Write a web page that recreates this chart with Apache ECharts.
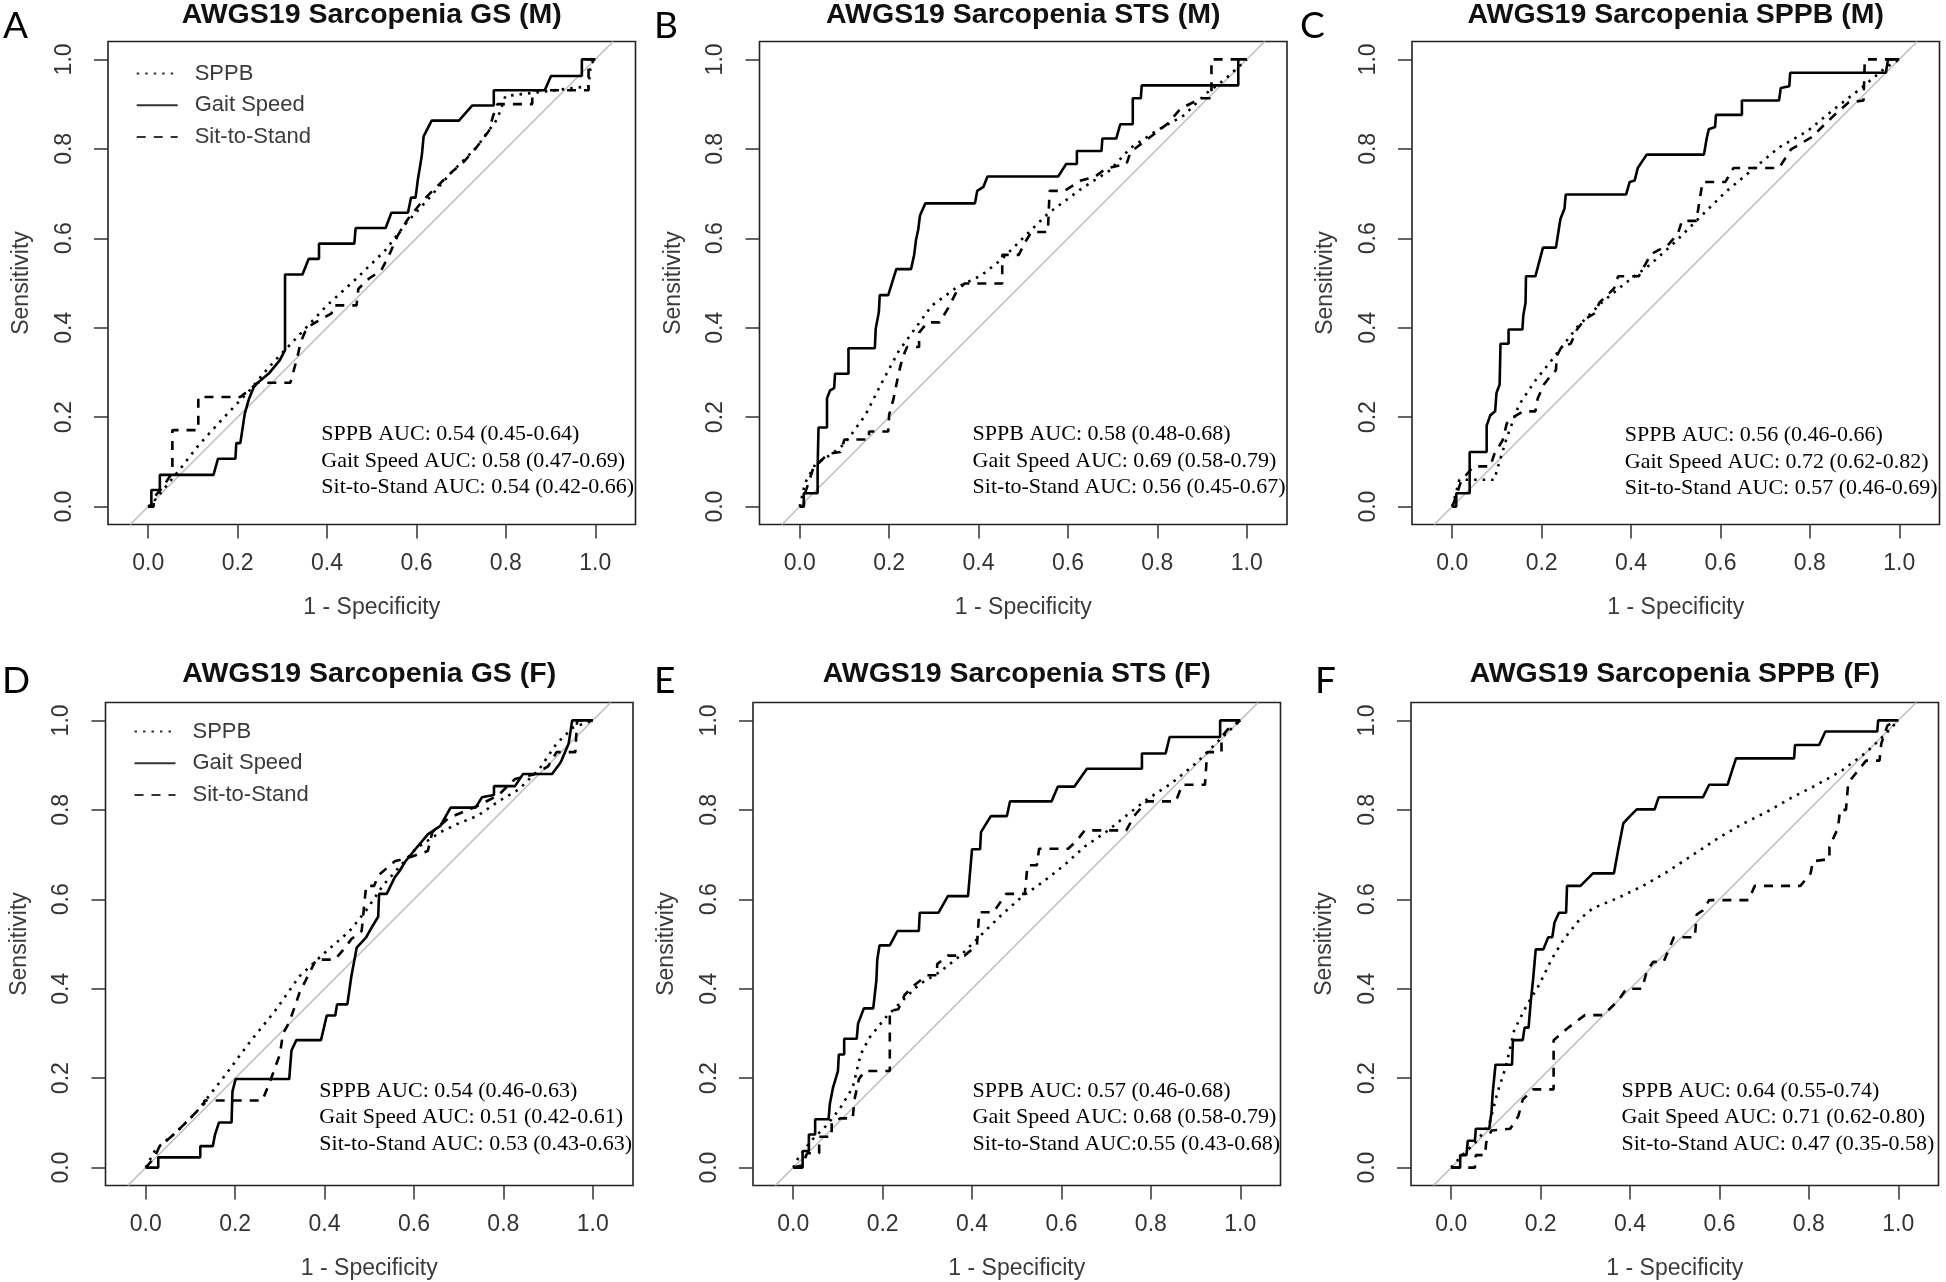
<!DOCTYPE html>
<html><head><meta charset="utf-8">
<script src="https://cdn.jsdelivr.net/npm/echarts@6/dist/echarts.min.js"></script>
<style>html,body{margin:0;padding:0;background:#fff}#c{width:1946px;height:1282px}</style>
</head><body><div id="c"></div>
<script>
// ---------- DATA ----------
const tickValues = [0, 0.2, 0.4, 0.6, 0.8, 1.0];
const seriesNames = ['SPPB', 'Gait Speed', 'Sit-to-Stand'];
const diagLine = [[-0.04, -0.04], [1.04, 1.04]];

const panelLetters = ['A', 'B', 'C', 'D', 'E', 'F'];
const panelTitles = [
  'AWGS19 Sarcopenia GS (M)', 'AWGS19 Sarcopenia STS (M)', 'AWGS19 Sarcopenia SPPB (M)',
  'AWGS19 Sarcopenia GS (F)', 'AWGS19 Sarcopenia STS (F)', 'AWGS19 Sarcopenia SPPB (F)'
];
const aucA = ['SPPB AUC: 0.54 (0.45-0.64)', 'Gait Speed AUC: 0.58 (0.47-0.69)', 'Sit-to-Stand AUC: 0.54 (0.42-0.66)'];
const aucB = ['SPPB AUC: 0.58 (0.48-0.68)', 'Gait Speed AUC: 0.69 (0.58-0.79)', 'Sit-to-Stand AUC: 0.56 (0.45-0.67)'];
const aucC = ['SPPB AUC: 0.56 (0.46-0.66)', 'Gait Speed AUC: 0.72 (0.62-0.82)', 'Sit-to-Stand AUC: 0.57 (0.46-0.69)'];
const aucD = ['SPPB AUC: 0.54 (0.46-0.63)', 'Gait Speed AUC: 0.51 (0.42-0.61)', 'Sit-to-Stand AUC: 0.53 (0.43-0.63)'];
const aucE = ['SPPB AUC: 0.57 (0.46-0.68)', 'Gait Speed AUC: 0.68 (0.58-0.79)', 'Sit-to-Stand AUC:0.55 (0.43-0.68)'];
const aucF = ['SPPB AUC: 0.64 (0.55-0.74)', 'Gait Speed AUC: 0.71 (0.62-0.80)', 'Sit-to-Stand AUC: 0.47 (0.35-0.58)'];

// Panel A
const A_sppb = [[0,0],[0.012,0.011],[0.068,0.08],[0.114,0.139],[0.169,0.199],[0.225,0.258],[0.271,0.313],[0.336,0.382],[0.401,0.451],[0.466,0.51],[0.531,0.574],[0.577,0.634],[0.623,0.684],[0.679,0.748],[0.734,0.803],[0.781,0.867],[0.799,0.918],[0.985,0.94],[0.99,0.99],[1,1]];
const A_gait = [[0,0],[0.007,0],[0.007,0.037],[0.026,0.037],[0.026,0.071],[0.146,0.071],[0.156,0.107],[0.195,0.107],[0.197,0.142],[0.206,0.142],[0.216,0.208],[0.225,0.24],[0.236,0.267],[0.245,0.277],[0.271,0.299],[0.294,0.327],[0.306,0.35],[0.306,0.519],[0.345,0.519],[0.359,0.554],[0.382,0.554],[0.382,0.588],[0.461,0.588],[0.464,0.623],[0.531,0.623],[0.544,0.657],[0.581,0.657],[0.588,0.691],[0.598,0.691],[0.603,0.73],[0.612,0.785],[0.616,0.828],[0.634,0.863],[0.695,0.863],[0.725,0.897],[0.773,0.897],[0.773,0.931],[0.887,0.931],[0.901,0.963],[0.97,0.963],[0.97,1],[1,1]];
const A_sts = [[0,0],[0.012,0],[0.012,0.02],[0.03,0.04],[0.05,0.07],[0.054,0.09],[0.054,0.171],[0.112,0.171],[0.112,0.245],[0.206,0.245],[0.225,0.26],[0.245,0.277],[0.318,0.277],[0.334,0.336],[0.341,0.368],[0.355,0.4],[0.378,0.414],[0.41,0.432],[0.415,0.45],[0.466,0.45],[0.47,0.487],[0.494,0.51],[0.521,0.528],[0.54,0.565],[0.558,0.606],[0.581,0.643],[0.614,0.684],[0.642,0.712],[0.679,0.748],[0.706,0.771],[0.734,0.803],[0.762,0.84],[0.771,0.872],[0.781,0.9],[0.859,0.9],[0.859,0.931],[0.985,0.931],[0.985,1],[1,1]];

// Panel B
const B_sppb = [[0,0],[0.012,0.053],[0.035,0.095],[0.072,0.118],[0.1,0.14],[0.147,0.205],[0.184,0.278],[0.221,0.347],[0.258,0.398],[0.295,0.449],[0.351,0.49],[0.406,0.517],[0.453,0.554],[0.499,0.6],[0.555,0.655],[0.629,0.71],[0.694,0.752],[0.74,0.802],[0.796,0.839],[0.861,0.876],[0.907,0.922],[0.954,0.958],[1,1]];
const B_gait = [[0,0],[0.009,0],[0.009,0.03],[0.04,0.03],[0.04,0.085],[0.042,0.177],[0.061,0.177],[0.061,0.242],[0.068,0.26],[0.077,0.265],[0.079,0.297],[0.109,0.297],[0.109,0.354],[0.168,0.354],[0.17,0.398],[0.177,0.435],[0.179,0.473],[0.198,0.473],[0.216,0.531],[0.249,0.531],[0.256,0.563],[0.26,0.596],[0.265,0.619],[0.269,0.651],[0.281,0.678],[0.392,0.678],[0.397,0.706],[0.411,0.715],[0.42,0.738],[0.578,0.738],[0.596,0.766],[0.62,0.766],[0.62,0.795],[0.675,0.795],[0.677,0.823],[0.708,0.823],[0.717,0.855],[0.745,0.855],[0.745,0.913],[0.763,0.913],[0.765,0.942],[0.981,0.942],[0.981,1],[1,1]];
const B_sts = [[0,0],[0.009,0],[0.012,0.03],[0.03,0.085],[0.063,0.118],[0.091,0.122],[0.1,0.15],[0.155,0.15],[0.155,0.168],[0.198,0.168],[0.2,0.205],[0.21,0.242],[0.221,0.297],[0.23,0.333],[0.24,0.357],[0.267,0.357],[0.267,0.389],[0.286,0.412],[0.313,0.412],[0.332,0.444],[0.351,0.481],[0.369,0.499],[0.453,0.499],[0.453,0.563],[0.49,0.563],[0.504,0.591],[0.518,0.614],[0.555,0.614],[0.559,0.706],[0.592,0.706],[0.629,0.729],[0.661,0.738],[0.685,0.756],[0.731,0.766],[0.74,0.793],[0.777,0.821],[0.824,0.857],[0.852,0.89],[0.898,0.913],[0.921,0.913],[0.921,1],[1,1]];

// Panel C
const C_sppb = [[0,0],[0.016,0.06],[0.094,0.06],[0.108,0.108],[0.122,0.154],[0.149,0.227],[0.186,0.282],[0.223,0.328],[0.279,0.401],[0.334,0.456],[0.389,0.501],[0.445,0.543],[0.5,0.593],[0.555,0.648],[0.611,0.703],[0.666,0.749],[0.731,0.803],[0.795,0.84],[0.851,0.886],[0.915,0.936],[0.97,0.982],[1,1]];
const C_gait = [[0,0],[0.009,0],[0.009,0.03],[0.039,0.03],[0.039,0.122],[0.077,0.122],[0.077,0.181],[0.085,0.204],[0.096,0.213],[0.099,0.254],[0.106,0.273],[0.108,0.364],[0.126,0.364],[0.126,0.396],[0.157,0.396],[0.159,0.428],[0.164,0.456],[0.165,0.515],[0.186,0.515],[0.203,0.579],[0.232,0.579],[0.242,0.643],[0.251,0.666],[0.254,0.698],[0.389,0.698],[0.397,0.726],[0.408,0.729],[0.415,0.757],[0.435,0.787],[0.563,0.787],[0.569,0.822],[0.574,0.844],[0.588,0.849],[0.59,0.876],[0.648,0.876],[0.648,0.908],[0.731,0.908],[0.735,0.936],[0.754,0.94],[0.756,0.97],[0.97,0.97],[0.975,1],[1,1]];
const C_sts = [[0,0],[0.011,0.03],[0.02,0.058],[0.048,0.09],[0.085,0.09],[0.094,0.117],[0.113,0.149],[0.122,0.186],[0.136,0.2],[0.159,0.213],[0.186,0.213],[0.191,0.241],[0.205,0.273],[0.219,0.291],[0.232,0.305],[0.234,0.337],[0.246,0.36],[0.265,0.364],[0.279,0.396],[0.297,0.419],[0.32,0.433],[0.329,0.456],[0.352,0.478],[0.362,0.488],[0.371,0.515],[0.417,0.515],[0.445,0.565],[0.482,0.584],[0.505,0.611],[0.514,0.639],[0.546,0.639],[0.56,0.726],[0.611,0.726],[0.629,0.757],[0.731,0.757],[0.758,0.799],[0.804,0.826],[0.851,0.872],[0.887,0.904],[0.92,0.908],[0.923,1],[1,1]];

// Panel D
const D_sppb = [[0,0],[0.022,0.041],[0.067,0.078],[0.113,0.124],[0.178,0.207],[0.233,0.281],[0.289,0.35],[0.344,0.428],[0.4,0.48],[0.456,0.529],[0.493,0.575],[0.53,0.63],[0.567,0.672],[0.604,0.713],[0.659,0.75],[0.696,0.768],[0.743,0.787],[0.789,0.819],[0.835,0.846],[0.881,0.892],[0.919,0.948],[0.956,0.984],[1,1]];
const D_gait = [[0,0],[0.028,0],[0.028,0.023],[0.122,0.023],[0.122,0.048],[0.15,0.048],[0.155,0.074],[0.164,0.101],[0.192,0.101],[0.194,0.17],[0.201,0.198],[0.321,0.198],[0.326,0.262],[0.337,0.285],[0.392,0.285],[0.405,0.34],[0.424,0.34],[0.428,0.365],[0.451,0.365],[0.46,0.428],[0.472,0.492],[0.493,0.515],[0.506,0.538],[0.52,0.561],[0.522,0.612],[0.539,0.612],[0.557,0.649],[0.567,0.662],[0.581,0.685],[0.604,0.713],[0.631,0.745],[0.659,0.764],[0.682,0.805],[0.738,0.805],[0.752,0.828],[0.779,0.833],[0.779,0.853],[0.826,0.853],[0.844,0.88],[0.909,0.88],[0.928,0.906],[0.946,0.948],[0.954,1],[1,1]];
const D_sts = [[0,0],[0.02,0.023],[0.03,0.046],[0.067,0.078],[0.104,0.115],[0.131,0.143],[0.131,0.15],[0.261,0.15],[0.28,0.198],[0.3,0.253],[0.307,0.299],[0.322,0.327],[0.344,0.391],[0.358,0.419],[0.381,0.465],[0.423,0.465],[0.446,0.492],[0.46,0.511],[0.483,0.529],[0.493,0.63],[0.511,0.63],[0.52,0.653],[0.557,0.685],[0.594,0.695],[0.631,0.708],[0.641,0.75],[0.678,0.782],[0.743,0.809],[0.789,0.833],[0.826,0.869],[0.868,0.879],[0.9,0.897],[0.919,0.929],[0.961,0.929],[0.965,1],[1,1]];

// Panel E
const E_sppb = [[0,0],[0.012,0.023],[0.04,0.06],[0.077,0.097],[0.105,0.133],[0.133,0.179],[0.151,0.253],[0.17,0.29],[0.207,0.336],[0.244,0.373],[0.281,0.409],[0.327,0.437],[0.374,0.474],[0.42,0.52],[0.467,0.566],[0.513,0.607],[0.559,0.639],[0.606,0.676],[0.652,0.718],[0.699,0.75],[0.745,0.787],[0.791,0.823],[0.847,0.86],[0.903,0.906],[0.958,0.961],[1,1]];
const E_gait = [[0,0],[0.021,0],[0.021,0.037],[0.035,0.037],[0.035,0.074],[0.049,0.074],[0.049,0.108],[0.079,0.108],[0.082,0.143],[0.089,0.179],[0.1,0.216],[0.102,0.253],[0.114,0.253],[0.114,0.288],[0.142,0.288],[0.145,0.322],[0.158,0.356],[0.179,0.356],[0.186,0.419],[0.188,0.465],[0.193,0.497],[0.216,0.497],[0.233,0.529],[0.281,0.529],[0.283,0.57],[0.325,0.57],[0.346,0.607],[0.391,0.607],[0.4,0.712],[0.418,0.712],[0.42,0.75],[0.442,0.786],[0.478,0.786],[0.485,0.819],[0.578,0.819],[0.592,0.852],[0.629,0.852],[0.657,0.892],[0.78,0.892],[0.78,0.926],[0.833,0.926],[0.842,0.963],[0.955,0.963],[0.955,1],[1,1]];
const E_sts = [[0,0],[0.02,0.005],[0.031,0.032],[0.058,0.032],[0.058,0.069],[0.086,0.069],[0.086,0.101],[0.105,0.11],[0.133,0.11],[0.137,0.152],[0.147,0.198],[0.16,0.216],[0.216,0.216],[0.216,0.35],[0.235,0.354],[0.249,0.386],[0.272,0.409],[0.3,0.43],[0.322,0.43],[0.322,0.455],[0.346,0.474],[0.383,0.474],[0.411,0.497],[0.416,0.571],[0.448,0.571],[0.476,0.612],[0.518,0.612],[0.524,0.676],[0.545,0.676],[0.55,0.713],[0.615,0.713],[0.634,0.731],[0.652,0.754],[0.745,0.754],[0.763,0.787],[0.791,0.819],[0.856,0.819],[0.87,0.856],[0.921,0.856],[0.926,0.929],[0.958,0.929],[0.958,0.963],[0.972,0.98],[1,1]];

// Panel F
const F_sppb = [[0,0],[0.02,0.023],[0.058,0.06],[0.085,0.097],[0.104,0.17],[0.122,0.225],[0.141,0.308],[0.169,0.363],[0.197,0.409],[0.224,0.465],[0.252,0.511],[0.289,0.557],[0.317,0.58],[0.373,0.603],[0.429,0.63],[0.484,0.662],[0.54,0.699],[0.596,0.736],[0.651,0.768],[0.707,0.796],[0.763,0.828],[0.818,0.856],[0.874,0.888],[0.929,0.929],[0.968,0.966],[1,1]];
const F_gait = [[0,0],[0.02,0],[0.02,0.028],[0.034,0.028],[0.037,0.06],[0.053,0.06],[0.055,0.087],[0.085,0.087],[0.09,0.124],[0.093,0.17],[0.099,0.23],[0.136,0.23],[0.138,0.285],[0.16,0.285],[0.164,0.313],[0.173,0.313],[0.178,0.373],[0.183,0.419],[0.189,0.488],[0.206,0.488],[0.217,0.515],[0.226,0.515],[0.231,0.548],[0.241,0.57],[0.257,0.57],[0.259,0.63],[0.289,0.63],[0.317,0.658],[0.364,0.658],[0.373,0.708],[0.385,0.77],[0.401,0.787],[0.415,0.801],[0.455,0.801],[0.464,0.828],[0.563,0.828],[0.577,0.856],[0.618,0.856],[0.637,0.915],[0.767,0.915],[0.769,0.945],[0.823,0.945],[0.837,0.975],[0.953,0.975],[0.955,1],[1,1]];
const F_sts = [[0,0],[0.053,0],[0.055,0.028],[0.076,0.028],[0.078,0.055],[0.09,0.083],[0.132,0.087],[0.15,0.115],[0.16,0.152],[0.183,0.175],[0.229,0.175],[0.229,0.285],[0.262,0.313],[0.299,0.341],[0.34,0.341],[0.373,0.373],[0.392,0.4],[0.427,0.4],[0.438,0.441],[0.452,0.46],[0.475,0.46],[0.489,0.493],[0.498,0.515],[0.545,0.515],[0.549,0.566],[0.563,0.575],[0.577,0.598],[0.665,0.598],[0.679,0.63],[0.781,0.63],[0.804,0.658],[0.809,0.685],[0.846,0.69],[0.846,0.717],[0.865,0.759],[0.87,0.8],[0.883,0.8],[0.888,0.86],[0.902,0.878],[0.928,0.91],[0.958,0.91],[0.962,0.948],[0.976,0.989],[1,1]];

// ---------- LAYOUT ----------
const panelData = [
  [A_sppb, A_gait, A_sts], [B_sppb, B_gait, B_sts], [C_sppb, C_gait, C_sts],
  [D_sppb, D_gait, D_sts], [E_sppb, E_gait, E_sts], [F_sppb, F_gait, F_sts]
];
const panelAuc = [aucA, aucB, aucC, aucD, aucE, aucF];
const BOX_W = 527.5, BOX_H = 483;
const boxes = [
  {left: 108, top: 41.5}, {left: 759.5, top: 41.5}, {left: 1412, top: 41.5},
  {left: 105.5, top: 702.5}, {left: 753, top: 702.5}, {left: 1411, top: 702.5}
];
const titleY = [15.5, 15.5, 15.5, 674.5, 674.5, 674.5];
const letterPos = [[3, 26], [654, 26], [1300, 26], [2, 681], [654, 681], [1315, 681]];
const aucPos = [[321.3, 434.7], [972.6, 434.7], [1624.8, 435.5], [319.3, 1091], [972.6, 1091], [1621.5, 1091]];
const AUC_GAP = 26.5;

const SANS = '"Liberation Sans", Arial, Helvetica, sans-serif';
const SERIF = '"Liberation Serif", "Times New Roman", serif';

const lineStyles = [
  {color: '#000', width: 2.6, type: [2.5, 6], cap: 'butt'},
  {color: '#000', width: 2.6, type: 'solid'},
  {color: '#000', width: 2.6, type: [9, 8], cap: 'butt'}
];

const grid = [], xAxis = [], yAxis = [], series = [], graphic = [];
boxes.forEach((b, i) => {
  grid.push({left: b.left, top: b.top, width: BOX_W, height: BOX_H, show: true,
    borderColor: '#222', borderWidth: 1.6, backgroundColor: 'transparent', containLabel: false});
  xAxis.push({type: 'value', gridIndex: i, min: -0.09, max: 1.09, position: 'bottom',
    axisLine: {show: false, onZero: false},
    axisTick: {show: true, inside: false, length: 14, customValues: tickValues, lineStyle: {color: '#333', width: 1.5}},
    axisLabel: {show: true, customValues: tickValues, formatter: v => v.toFixed(1), margin: 28,
      fontSize: 23, lineHeight: 23, color: '#333', fontFamily: SANS},
    splitLine: {show: false}});
  yAxis.push({type: 'value', gridIndex: i, min: -0.04, max: 1.04, position: 'left',
    axisLine: {show: false, onZero: false},
    axisTick: {show: true, inside: false, length: 14, customValues: tickValues, lineStyle: {color: '#333', width: 1.5}},
    axisLabel: {show: true, customValues: tickValues, formatter: v => v.toFixed(1), rotate: 90, margin: 32,
      fontSize: 23, lineHeight: 23, color: '#333', fontFamily: SANS},
    splitLine: {show: false}});
  series.push({type: 'line', name: 'diagonal', xAxisIndex: i, yAxisIndex: i, data: diagLine,
    symbol: 'none', silent: true, z: 1, lineStyle: {color: '#bdbdbd', width: 1.5}});
  panelData[i].forEach((d, k) => {
    series.push({type: 'line', name: seriesNames[k], xAxisIndex: i, yAxisIndex: i, data: d,
      symbol: 'none', showSymbol: false, z: 3, itemStyle: {color: '#000'}, lineStyle: lineStyles[k]});
  });
  const cx = b.left + BOX_W / 2;
  graphic.push({type: 'text', x: cx, y: titleY[i], style: {text: panelTitles[i], fontSize: 28.5, fontWeight: 'bold',
    fontFamily: SANS, fill: '#111', align: 'center', verticalAlign: 'middle', textAlign: 'center', textVerticalAlign: 'middle'}});
  graphic.push({type: 'text', x: letterPos[i][0], y: letterPos[i][1], style: {text: panelLetters[i], fontSize: 37,
    fontFamily: 'Lato, "Open Sans", sans-serif', fill: '#000', align: 'left', verticalAlign: 'middle', textAlign: 'left', textVerticalAlign: 'middle'}});
  graphic.push({type: 'text', x: cx, y: b.top + BOX_H + 83, style: {text: '1 - Specificity', fontSize: 23,
    fontFamily: SANS, fill: '#3a3a3a', align: 'center', verticalAlign: 'middle', textAlign: 'center', textVerticalAlign: 'middle'}});
  graphic.push({type: 'text', x: b.left - 86, y: b.top + BOX_H / 2, rotation: Math.PI / 2, style: {text: 'Sensitivity', fontSize: 23,
    fontFamily: SANS, fill: '#3a3a3a', align: 'center', verticalAlign: 'middle', textAlign: 'center', textVerticalAlign: 'middle'}});
  panelAuc[i].forEach((t, k) => {
    graphic.push({type: 'text', x: aucPos[i][0], y: aucPos[i][1] + k * AUC_GAP, style: {text: t, fontSize: 22,
      fontFamily: SERIF, fill: '#000', align: 'left', verticalAlign: 'middle', textAlign: 'left', textVerticalAlign: 'middle'}});
  });
});

const legendBase = {data: seriesNames, orient: 'vertical', itemWidth: 41, itemHeight: 14, itemGap: 9.7,
  selectedMode: false, textStyle: {fontSize: 22, lineHeight: 22, color: '#3a3a3a', fontFamily: SANS, padding: [0, 0, 0, 12]},
  itemStyle: {opacity: 0, color: '#000', borderWidth: 0}, lineStyle: {width: 2, color: '#333'}};
const legend = [
  Object.assign({}, legendBase, {left: 130.7, top: 57.5}),
  Object.assign({}, legendBase, {left: 128.5, top: 715.5})
];

const chart = echarts.init(document.getElementById('c'), null, {renderer: 'canvas'});
chart.setOption({animation: false, backgroundColor: '#fff', grid, xAxis, yAxis, series, legend, graphic});
</script></body></html>
